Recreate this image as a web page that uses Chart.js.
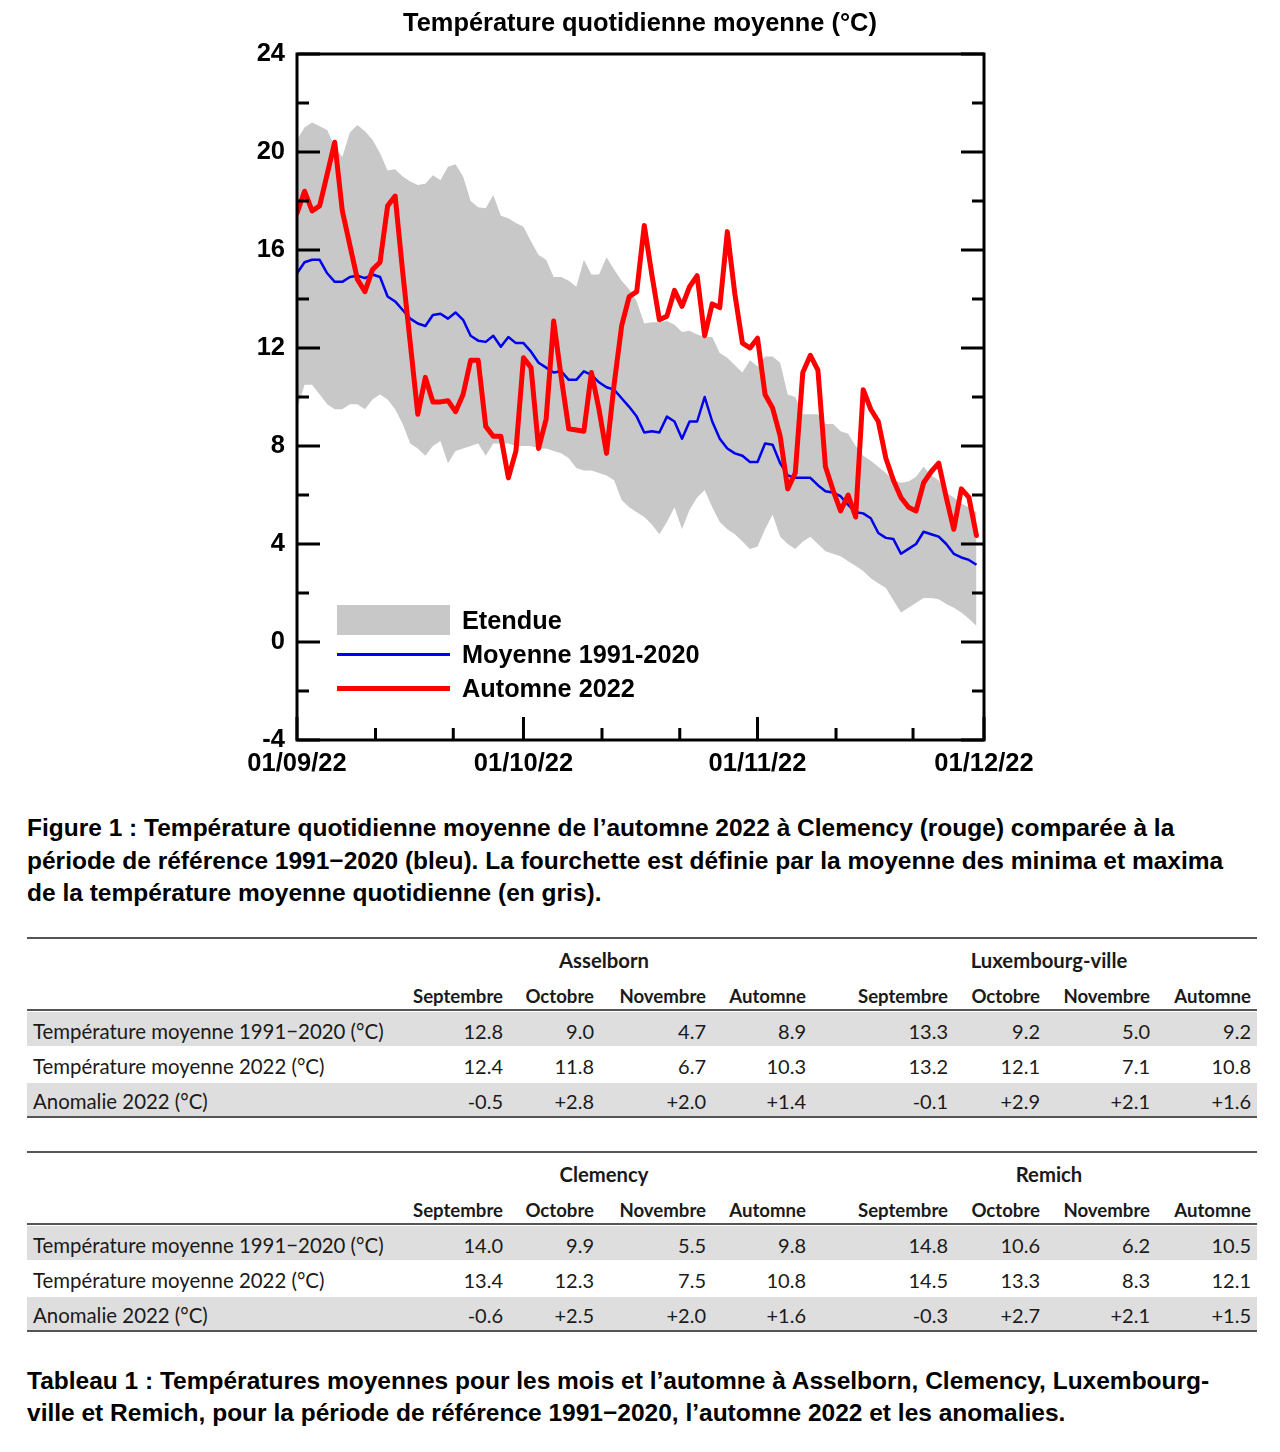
<!DOCTYPE html>
<html><head><meta charset="utf-8">
<script src="https://cdn.jsdelivr.net/npm/chart.js@4.4.0/dist/chart.umd.min.js"></script>
<style>
body{margin:0;background:#fff;width:1280px;height:1452px;position:relative;overflow:hidden;font-family:"Liberation Sans",Arial,sans-serif;color:#000;}
#chartBox{position:absolute;left:0;top:0;width:1280px;height:790px;}
#title{position:absolute;left:0;top:7px;width:1280px;text-align:center;font-weight:bold;font-size:25.4px;line-height:30px;}
.lg{position:absolute;}
.lgt{position:absolute;left:462px;font-weight:bold;font-size:25.3px;line-height:30px;white-space:nowrap;}
.cap{position:absolute;left:27px;font-weight:bold;font-size:24.5px;line-height:32.5px;white-space:nowrap;}
.t{position:absolute;font-family:Lato,"Open Sans",sans-serif;font-size:20px;line-height:30px;height:30px;white-space:nowrap;color:#1a1a1a;}
.l{font-size:20.4px;}
.h{font-weight:bold;font-size:18.6px;}
.s{font-weight:bold;font-size:20.3px;}
.rule{position:absolute;left:27px;width:1230px;height:2px;background:#555;}
.bg{position:absolute;left:27px;width:1230px;background:#dedede;}
</style></head>
<body>
<div id="chartBox"><canvas id="c"></canvas></div>
<div id="title">Température quotidienne moyenne (°C)</div>
<div class="lg" style="left:337px;top:605px;width:113px;height:30px;background:#c8c8c8"></div>
<div class="lg" style="left:337px;top:653px;width:113px;height:3px;background:#0000ee"></div>
<div class="lg" style="left:337px;top:686px;width:113px;height:5px;background:#ff0000"></div>
<div class="lgt" style="top:605px">Etendue</div>
<div class="lgt" style="top:639px">Moyenne 1991-2020</div>
<div class="lgt" style="top:673px">Automne 2022</div>
<div class="cap" style="top:812px">Figure 1 : Température quotidienne moyenne de l’automne 2022 à Clemency (rouge) comparée à la<br>période de référence 1991−2020 (bleu). La fourchette est définie par la moyenne des minima et maxima<br>de la température moyenne quotidienne (en gris).</div>
<div id="tables"></div>
<div class="cap" style="top:1365px;line-height:32px">Tableau 1 : Températures moyennes pour les mois et l’automne à Asselborn, Clemency, Luxembourg-<br>ville et Remich, pour la période de référence 1991−2020, l’automne 2022 et les anomalies.</div>
<script>
// ---- Chart data (day 0 = 01/09/2022 ... day 90 = 30/11/2022) ----
const monthTickDays = [0, 30, 61, 91];
const monthLabels = ['01/09/22', '01/10/22', '01/11/22', '01/12/22'];
const minorTickDays = [10.4, 20.7, 40.4, 50.7, 71.4, 81.6];

const automne2022 = [17.5,18.4,17.6,17.8,19.1,20.4,17.6,16.2,14.8,14.3,
  15.2,15.5,17.8,18.2,15.1,12.2,9.3,10.8,9.8,9.8,
  9.85,9.4,10.1,11.5,11.5,8.8,8.4,8.4,6.7,7.8,
  11.6,11.2,7.9,9.1,13.1,10.8,8.7,8.65,8.6,11.0,
  9.5,7.7,10.5,12.9,14.1,14.3,17.0,15.0,13.15,13.3,
  14.35,13.7,14.5,14.95,12.5,13.8,13.65,16.75,14.2,12.2,
  12.0,12.4,10.1,9.55,8.4,6.25,6.9,11.0,11.7,11.1,
  7.15,6.2,5.35,6.0,5.1,10.3,9.5,9.0,7.5,6.6,
  5.9,5.5,5.35,6.5,6.95,7.3,5.9,4.6,6.25,5.9,4.35];

const moyenne = [15.05,15.5,15.6,15.6,15.05,14.7,14.7,14.9,14.95,14.85,
  15.0,14.9,14.1,13.9,13.55,13.2,13.0,12.9,13.35,13.4,
  13.2,13.45,13.15,12.5,12.3,12.25,12.5,12.05,12.45,12.2,
  12.2,11.85,11.4,11.2,11.0,11.05,10.7,10.7,11.05,10.9,
  10.6,10.4,10.3,9.95,9.6,9.2,8.55,8.6,8.55,9.2,
  9.0,8.3,9.0,9.0,10.0,9.0,8.3,7.9,7.7,7.6,
  7.35,7.35,8.1,8.05,7.3,6.8,6.7,6.7,6.7,6.4,
  6.15,6.1,5.95,5.6,5.3,5.25,5.05,4.45,4.25,4.2,
  3.6,3.8,4.0,4.5,4.4,4.3,4.0,3.6,3.45,3.35,3.15];

const etendueMax = [20.5,21.0,21.2,21.05,20.9,20.2,19.8,20.8,21.1,20.85,
  20.5,19.95,19.25,19.3,19.0,18.8,18.65,18.7,19.05,18.85,
  19.4,19.5,19.0,18.0,17.75,17.7,18.25,17.4,17.3,17.1,
  16.95,16.35,15.8,15.6,14.9,14.9,14.75,14.5,15.6,15.0,
  15.0,15.7,15.2,14.75,14.4,13.9,13.0,13.05,13.05,13.1,
  12.95,12.65,12.7,12.55,12.45,12.45,11.8,11.6,11.3,11.0,
  11.5,11.25,11.65,11.65,11.4,10.1,10.0,9.3,9.3,9.3,
  8.9,8.9,8.6,8.5,8.0,7.6,7.4,7.15,6.9,6.6,
  6.5,6.55,6.75,7.15,6.8,6.6,6.1,5.9,5.65,5.5,5.3];

const etendueMin = [9.5,10.5,10.5,10.1,9.7,9.5,9.5,9.7,9.7,9.5,
  9.9,10.1,9.9,9.5,8.9,8.1,7.9,7.6,8.0,8.2,
  7.3,7.8,7.9,8.0,8.1,7.6,8.1,8.1,8.1,8.0,
  8.0,8.0,7.9,7.9,7.8,7.7,7.5,7.1,7.0,7.0,
  6.9,6.8,6.6,5.8,5.5,5.3,5.1,4.8,4.4,4.9,
  5.5,4.6,5.4,5.9,6.2,5.5,4.9,4.6,4.4,4.1,
  3.8,3.9,4.6,5.2,4.3,4.0,3.8,4.1,4.3,4.0,
  3.7,3.6,3.5,3.3,3.1,2.9,2.6,2.4,2.2,1.7,
  1.2,1.4,1.6,1.8,1.8,1.75,1.55,1.4,1.2,0.95,0.65];

// ---- Table data ----
const periods = ['Septembre', 'Octobre', 'Novembre', 'Automne'];
const rowLabels = ['Température moyenne 1991−2020 (°C)', 'Température moyenne 2022 (°C)', 'Anomalie 2022 (°C)'];
const stationsTop = ['Asselborn', 'Luxembourg-ville'];
const stationsBottom = ['Clemency', 'Remich'];
const asselborn = [['12.8','9.0','4.7','8.9'], ['12.4','11.8','6.7','10.3'], ['-0.5','+2.8','+2.0','+1.4']];
const luxembourg = [['13.3','9.2','5.0','9.2'], ['13.2','12.1','7.1','10.8'], ['-0.1','+2.9','+2.1','+1.6']];
const clemency = [['14.0','9.9','5.5','9.8'], ['13.4','12.3','7.5','10.8'], ['-0.6','+2.5','+2.0','+1.6']];
const remich = [['14.8','10.6','6.2','10.5'], ['14.5','13.3','8.3','12.1'], ['-0.3','+2.7','+2.1','+1.5']];

const toXY = arr => arr.map((v, i) => ({x: i, y: v}));

const frameTicks = {
  id: 'frameTicks',
  afterDraw(chart) {
    const {ctx, chartArea: a, scales: {x, y}} = chart;
    ctx.save();
    ctx.strokeStyle = '#000';
    ctx.lineWidth = 3;
    ctx.beginPath();
    y.ticks.forEach(t => {
      const py = y.getPixelForValue(t.value);
      const len = (t.value % 4 === 0) ? 23 : 12;
      ctx.moveTo(a.left, py); ctx.lineTo(a.left + len, py);
      ctx.moveTo(a.right, py); ctx.lineTo(a.right - len, py);
    });
    x.ticks.forEach(t => {
      const px = x.getPixelForValue(t.value);
      ctx.moveTo(px, a.bottom); ctx.lineTo(px, a.bottom - 23);
    });
    minorTickDays.forEach(d => {
      const px = x.getPixelForValue(d);
      ctx.moveTo(px, a.bottom); ctx.lineTo(px, a.bottom - 12);
    });
    ctx.stroke();
    ctx.strokeRect(a.left, a.top, a.right - a.left, a.bottom - a.top);
    ctx.restore();
  }
};

new Chart(document.getElementById('c'), {
  type: 'line',
  data: {
    datasets: [
      {label: 'Automne 2022', data: toXY(automne2022), borderColor: '#ff0000', borderWidth: 5, borderJoinStyle: 'round', borderCapStyle: 'round', pointRadius: 0, fill: false, tension: 0},
      {label: 'Moyenne 1991-2020', data: toXY(moyenne), borderColor: '#0000ee', borderWidth: 2.5, borderJoinStyle: 'round', pointRadius: 0, fill: false, tension: 0},
      {label: 'Etendue', data: toXY(etendueMax), borderWidth: 0, borderColor: 'rgba(0,0,0,0)', backgroundColor: '#c8c8c8', pointRadius: 0, fill: '+1', tension: 0},
      {label: 'Etendue min', data: toXY(etendueMin), borderWidth: 0, borderColor: 'rgba(0,0,0,0)', pointRadius: 0, fill: false, tension: 0}
    ]
  },
  options: {
    responsive: true, maintainAspectRatio: false, animation: false,
    layout: {padding: {left: 0, right: 296, top: 54, bottom: 0}},
    plugins: {legend: {display: false}, tooltip: {enabled: false}, title: {display: false}},
    scales: {
      x: {
        type: 'linear', min: 0, max: 91,
        grid: {display: false, drawTicks: false}, border: {display: false},
        afterBuildTicks: s => { s.ticks = monthTickDays.map(v => ({value: v})); },
        afterFit: s => { s.height = 50; },
        ticks: {autoSkip: false, maxRotation: 0, padding: 9, color: '#000',
          font: {family: 'Liberation Sans', size: 25.5, weight: 'bold'},
          callback: (v, i) => monthLabels[i]}
      },
      y: {
        min: -4, max: 24,
        grid: {display: false, drawTicks: false}, border: {display: false},
        afterFit: s => { s.width = 297; },
        ticks: {stepSize: 2, padding: 12, color: '#000',
          font: {family: 'Liberation Sans', size: 25.5, weight: 'bold'},
          callback: v => (v % 4 === 0 ? String(v) : '')}
      }
    }
  },
  plugins: [frameTicks]
});

// ---- Tables ----
const colRight = [503, 594, 706, 806, 948, 1040, 1150, 1251];
const stationCenters = [604, 1049];
const box = document.getElementById('tables');
function el(cls, style, text) {
  const d = document.createElement('div');
  d.className = cls; d.setAttribute('style', style);
  if (text !== undefined) d.textContent = text;
  box.appendChild(d);
}
function buildTable(y0, names, left, right) {
  el('rule', `top:${y0}px`);
  el('bg', `top:${y0 + 75}px;height:34px`);
  el('bg', `top:${y0 + 146}px;height:33px`);
  el('rule', `top:${y0 + 72}px`);
  el('rule', `top:${y0 + 179}px`);
  names.forEach((n, i) => el('t s', `left:${stationCenters[i] - 150}px;width:300px;text-align:center;top:${y0 + 23 - 15}px`, n));
  for (let k = 0; k < 8; k++) {
    el('t h', `right:${1280 - colRight[k]}px;top:${y0 + 59 - 15}px`, periods[k % 4]);
  }
  const rowC = [94, 129, 164];
  rowLabels.forEach((lab, r) => {
    el('t l', `left:33px;top:${y0 + rowC[r] - 15}px`, lab);
    for (let k = 0; k < 8; k++) {
      const v = k < 4 ? left[r][k] : right[r][k - 4];
      el('t', `right:${1280 - colRight[k]}px;top:${y0 + rowC[r] - 15}px`, v);
    }
  });
}
buildTable(937, stationsTop, asselborn, luxembourg);
buildTable(1151, stationsBottom, clemency, remich);
</script>
</body></html>
